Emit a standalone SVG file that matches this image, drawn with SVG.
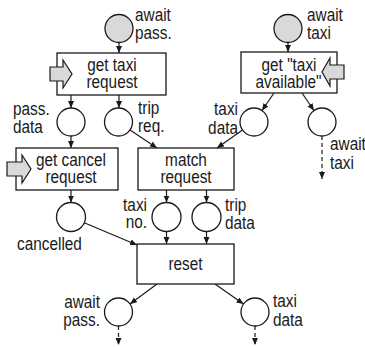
<svg xmlns="http://www.w3.org/2000/svg" width="365" height="347" viewBox="0 0 365 347">
  <style>
    .place { fill: #ffffff; stroke: #1a1a1a; stroke-width: 1.3; }
    .token { fill: #d9d9d9; }
    .trans { fill: #ffffff; stroke: #1a1a1a; stroke-width: 1.3; }
    .input { fill: #d9d9d9; stroke: #1a1a1a; stroke-width: 1.2; stroke-linejoin: miter; }
    .arc { fill: none; stroke: #1a1a1a; stroke-width: 1.2; marker-end: url(#head); }
    .dash { stroke-dasharray: 4 3; }
    text { font-family: "Liberation Sans", Arial, sans-serif; font-size: 18.5px; fill: #1a1a1a; }
    .mid { text-anchor: middle; }
    .end { text-anchor: end; }
  </style>
  <defs>
    <marker id="head" markerUnits="userSpaceOnUse" markerWidth="8" markerHeight="7" refX="7" refY="3" orient="auto">
      <path d="M0,0 L7,3 L0,6 z" fill="#1a1a1a"/>
    </marker>
  </defs>

  <!-- arcs between places and transitions -->
  <g id="connectors">
    <line class="arc" x1="119" y1="42.5" x2="119" y2="53"/>
    <line class="arc" x1="288" y1="42.5" x2="288" y2="52"/>
    <line class="arc" x1="71" y1="95" x2="71" y2="108"/>
    <line class="arc" x1="119" y1="95" x2="119" y2="108"/>
    <line class="arc" x1="274" y1="93" x2="262" y2="110.5"/>
    <line class="arc" x1="302" y1="93" x2="314" y2="110.5"/>
    <line class="arc dash" x1="322" y1="136" x2="322" y2="179"/>
    <line class="arc" x1="71" y1="136" x2="71" y2="148"/>
    <line class="arc" x1="130" y1="130" x2="157" y2="148"/>
    <line class="arc" x1="242.5" y1="130" x2="217" y2="148"/>
    <line class="arc" x1="71" y1="190" x2="71" y2="202.5"/>
    <line class="arc" x1="166.5" y1="190" x2="166.5" y2="202.5"/>
    <line class="arc" x1="206.5" y1="190" x2="206.5" y2="202.5"/>
    <line class="arc" x1="84.3" y1="222.7" x2="137" y2="245"/>
    <line class="arc" x1="166.5" y1="231.5" x2="166.5" y2="244"/>
    <line class="arc" x1="206.5" y1="231.5" x2="206.5" y2="244"/>
    <line class="arc" x1="157" y1="284" x2="130" y2="304"/>
    <line class="arc" x1="215" y1="284" x2="243.5" y2="304"/>
    <line class="arc dash" x1="118.5" y1="326" x2="118.5" y2="345"/>
    <line class="arc dash" x1="255" y1="326" x2="255" y2="345"/>
  </g>

  <!-- places -->
  <g id="await-pass-top">
    <circle class="place token" cx="119" cy="28.5" r="14"/>
    <text transform="translate(135,21) scale(0.83,1)">await</text>
    <text transform="translate(135,39) scale(0.83,1)">pass.</text>
  </g>
  <g id="await-taxi-top">
    <circle class="place token" cx="288" cy="28.5" r="14"/>
    <text transform="translate(307,21) scale(0.83,1)">await</text>
    <text transform="translate(307,39) scale(0.83,1)">taxi</text>
  </g>
  <g id="pass-data">
    <circle class="place" cx="71" cy="122" r="14"/>
    <text transform="translate(13,115) scale(0.83,1)">pass.</text>
    <text transform="translate(13,133) scale(0.83,1)">data</text>
  </g>
  <g id="trip-req">
    <circle class="place" cx="118.5" cy="122" r="14"/>
    <text transform="translate(138,114) scale(0.83,1)">trip</text>
    <text transform="translate(138,132) scale(0.83,1)">req.</text>
  </g>
  <g id="taxi-data-top">
    <circle class="place" cx="254" cy="122" r="14"/>
    <text class="end" transform="translate(238,115) scale(0.83,1)">taxi</text>
    <text class="end" transform="translate(238,134) scale(0.83,1)">data</text>
  </g>
  <g id="await-taxi-out">
    <circle class="place" cx="322" cy="122" r="14"/>
    <text transform="translate(330,150) scale(0.83,1)">await</text>
    <text transform="translate(330,169) scale(0.83,1)">taxi</text>
  </g>
  <g id="cancelled">
    <circle class="place" cx="71" cy="217" r="14.5"/>
    <text transform="translate(17,250) scale(0.83,1)">cancelled</text>
  </g>
  <g id="taxi-no">
    <circle class="place" cx="166.5" cy="217" r="14.5"/>
    <text class="end" transform="translate(147,211) scale(0.83,1)">taxi</text>
    <text class="end" transform="translate(147,228) scale(0.83,1)">no.</text>
  </g>
  <g id="trip-data">
    <circle class="place" cx="206.5" cy="217" r="14.5"/>
    <text transform="translate(225,211) scale(0.83,1)">trip</text>
    <text transform="translate(225,229) scale(0.83,1)">data</text>
  </g>
  <g id="await-pass-out">
    <circle class="place" cx="118.5" cy="312" r="14"/>
    <text class="end" transform="translate(100,308) scale(0.83,1)">await</text>
    <text class="end" transform="translate(100,326) scale(0.83,1)">pass.</text>
  </g>
  <g id="taxi-data-out">
    <circle class="place" cx="255" cy="312" r="14"/>
    <text transform="translate(273,307) scale(0.83,1)">taxi</text>
    <text transform="translate(273,326) scale(0.83,1)">data</text>
  </g>

  <!-- transitions -->
  <g id="get-taxi-request">
    <rect class="trans" x="57" y="53" width="109" height="42"/>
    <polygon class="input" points="50,67 63,67 63,60 72,74 63,88 63,81 50,81"/>
    <text class="mid" transform="translate(112,71) scale(0.83,1)">get taxi</text>
    <text class="mid" transform="translate(112,88) scale(0.83,1)">request</text>
  </g>
  <g id="get-taxi-available">
    <rect class="trans" x="241" y="52" width="96" height="41"/>
    <text class="mid" transform="translate(289,71) scale(0.83,1)">get "taxi</text>
    <text class="mid" transform="translate(288.5,88) scale(0.83,1)">available"</text>
    <polygon class="input" points="344,65 330,65 330,58 322,72 330,86 330,79 344,79"/>
  </g>
  <g id="get-cancel-request">
    <rect class="trans" x="16" y="148" width="102" height="42"/>
    <polygon class="input" points="7,162 22,162 22,155 31,169 22,183 22,176 7,176"/>
    <text class="mid" transform="translate(71,166) scale(0.83,1)">get cancel</text>
    <text class="mid" transform="translate(71,183) scale(0.83,1)">request</text>
  </g>
  <g id="match-request">
    <rect class="trans" x="138" y="148" width="96" height="42"/>
    <text class="mid" transform="translate(186,166) scale(0.83,1)">match</text>
    <text class="mid" transform="translate(186,183) scale(0.83,1)">request</text>
  </g>
  <g id="reset">
    <rect class="trans" x="137" y="244" width="97" height="40"/>
    <text class="mid" transform="translate(185.5,270) scale(0.83,1)">reset</text>
  </g>
</svg>
